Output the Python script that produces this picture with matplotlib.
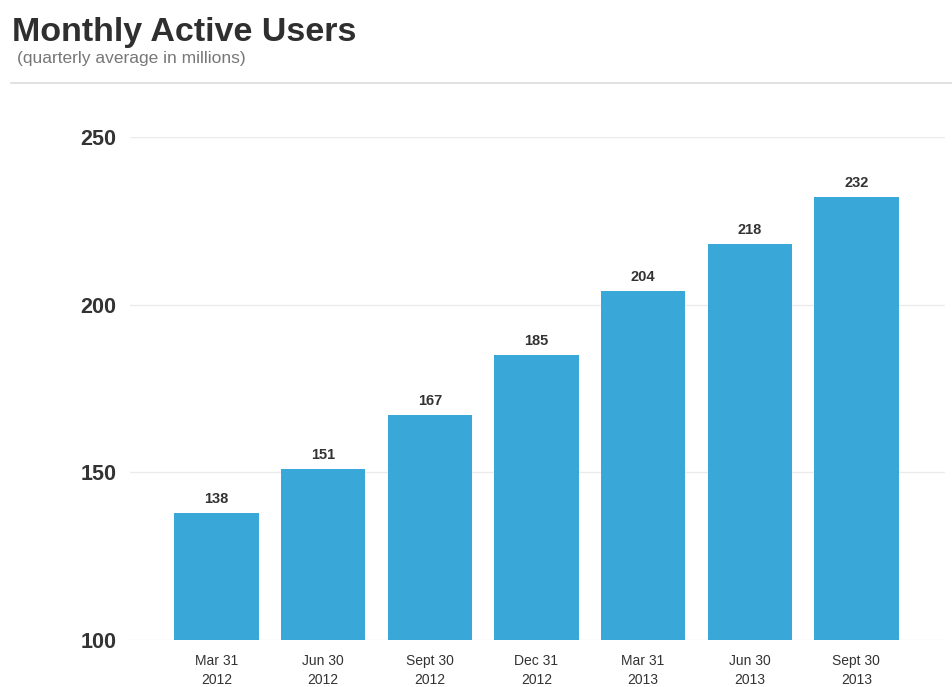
import matplotlib
matplotlib.use("Agg")
import matplotlib.pyplot as plt
from matplotlib.lines import Line2D

plt.rcParams['font.family'] = ['Liberation Sans', 'DejaVu Sans']

quarters = ["Mar 31\n2012", "Jun 30\n2012", "Sept 30\n2012", "Dec 31\n2012",
            "Mar 31\n2013", "Jun 30\n2013", "Sept 30\n2013"]
users = [138, 151, 167, 185, 204, 218, 232]
y_ticks = [100, 150, 200, 250]

bar_color = "#39a7d8"
text_dark = "#333333"

fig = plt.figure(figsize=(9.52, 6.87), dpi=100)
ax = fig.add_axes([0.1366, 0.0684, 0.856, 0.7322])

x = range(len(users))
ax.bar(x, users, width=0.79, color=bar_color, zorder=3)
ax.set_ylim(100, 250)
ax.set_xlim(-0.81, 6.83)
ax.set_yticks(y_ticks)
ax.set_yticklabels([str(t) for t in y_ticks], fontsize=15.5, fontweight="bold",
                   color=text_dark)
ax.set_xticks(list(x))
ax.set_xticklabels(quarters, fontsize=10, color=text_dark, linespacing=1.45)
ax.tick_params(axis="y", length=0, pad=10)
ax.tick_params(axis="x", length=0, pad=10)
ax.grid(axis="y", color="#ebebeb", linewidth=1, zorder=0)
for side in ax.spines.values():
    side.set_visible(False)

for xi, v in zip(x, users):
    ax.annotate(str(v), (xi, v), xytext=(0, 5), textcoords="offset points",
                ha="center", va="bottom", fontsize=10.5, fontweight="bold",
                color=text_dark)

fig.text(0.0125, 0.94, "Monthly Active Users", fontsize=24.5, fontweight="bold",
         color="#2f2f2f", ha="left", va="baseline")
fig.text(0.018, 0.908, "(quarterly average in millions)", fontsize=12.5,
         color="#777777", ha="left", va="baseline")
fig.add_artist(Line2D([0.012, 1.0], [0.879, 0.879], transform=fig.transFigure,
                      color="#dddddd", linewidth=1.2))

fig.savefig("out.png", dpi=100, facecolor="white")
